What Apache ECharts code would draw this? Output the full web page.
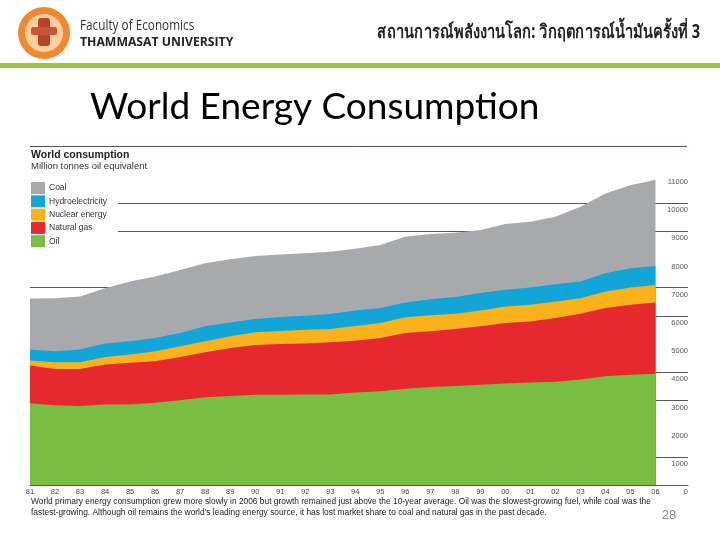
<!DOCTYPE html>
<html>
<head>
<meta charset="utf-8">
<script src="https://cdn.jsdelivr.net/npm/echarts@6/dist/echarts.min.js"></script>
<style>
html,body{margin:0;padding:0;background:#fff;}
#c{width:720px;height:540px;}
</style>
</head>
<body>
<div id="c"></div>
<script>
// ---- data (million tonnes oil equivalent) ----
var years = [1981,1982,1983,1984,1985,1986,1987,1988,1989,1990,1991,1992,1993,1994,1995,1996,1997,1998,1999,2000,2001,2002,2003,2004,2005,2006];
var oil     = [2900,2830,2800,2860,2860,2920,3010,3110,3160,3200,3200,3215,3215,3280,3330,3415,3475,3510,3560,3605,3640,3660,3745,3860,3910,3945];
var naturalGas = [1340,1290,1320,1415,1475,1470,1535,1600,1705,1770,1805,1805,1850,1840,1890,1980,1980,2025,2070,2145,2165,2265,2335,2420,2485,2535];
var nuclear = [175,240,240,270,295,355,375,390,410,450,460,490,470,520,530,555,565,545,565,585,590,590,550,585,615,620];
var hydro   = [390,385,445,475,470,475,475,530,495,470,495,495,530,550,530,530,575,590,615,590,615,610,590,650,680,675];
var coal    = [1815,1885,1885,1965,2120,2175,2235,2240,2240,2235,2215,2215,2215,2190,2235,2330,2310,2280,2235,2335,2330,2390,2650,2825,2945,3060];
var yTicks = ['0','1000','2000','3000','4000','5000','6000','7000','8000','9000','10000','11000'];
var legendNames = ['Coal','Hydroelectricity','Nuclear energy','Natural gas','Oil'];

var colors = {coal:'#a7a9ac', hydro:'#12a5d8', nuclear:'#f9b21b', gas:'#e6282f', oil:'#79be43'};

// stack bottom-up: oil, gas, nuclear, hydro, coal
var layers = [oil, naturalGas, nuclear, hydro, coal];
var layerNames = ['Oil','Natural gas','Nuclear energy','Hydroelectricity','Coal'];
var layerColors = [colors.oil, colors.gas, colors.nuclear, colors.hydro, colors.coal];
var cum = years.map(function(){ return 0; });
var tops = layers.map(function(arr){
  cum = cum.map(function(c,i){ return c + arr[i]; });
  return cum.slice();
});

function areaSeries(name, arr, color, z){
  return {name:name, type:'line', data:arr.map(function(v,i){ return [years[i], v]; }),
    symbol:'none', showSymbol:false, lineStyle:{width:0},
    areaStyle:{color:color, opacity:1, origin:'start'}, itemStyle:{color:color}, silent:true, z:z};
}
var series = [];
for (var k = layers.length-1; k >= 0; k--) {
  series.push(areaSeries(layerNames[k], tops[k], layerColors[k], 2 + (layers.length-1-k)));
}

var chart = echarts.init(document.getElementById('c'), null, {renderer:'canvas'});

var legendColors = [colors.coal, colors.hydro, colors.nuclear, colors.gas, colors.oil];
var legendGraphics = [{type:'rect', shape:{x:28,y:176,width:90,height:74}, style:{fill:'#fff'}, z:50}];
legendNames.forEach(function(n,i){
  var y = 182 + i*13.3;
  legendGraphics.push({type:'rect', shape:{x:31,y:y,width:14,height:12}, style:{fill:legendColors[i]}, z:60});
  legendGraphics.push({type:'text', x:49, y:y+6, style:{text:n, font:'8.5px "Liberation Sans"', fill:'#333', textVerticalAlign:'middle'}, z:60});
});

var option = {
  animation:false,
  backgroundColor:'#fff',
  grid:{left:30, right:32, top:175, bottom:55, containLabel:false},
  xAxis:{type:'value', min:1981, max:2007.3, interval:1,
    axisLine:{show:true, lineStyle:{color:'#555', width:1}},
    axisTick:{show:false}, splitLine:{show:false},
    axisLabel:{margin:3, fontSize:7.5, color:'#444', fontFamily:'Liberation Sans',
      formatter:function(v){ return (v<=2006 && v===Math.round(v)) ? String(v).slice(2) : ''; }}
  },
  yAxis:{type:'value', position:'right', min:0, max:11000, interval:1000,
    axisLine:{show:false}, axisTick:{show:false},
    splitLine:{show:true, lineStyle:{color:['#555','#555','rgba(0,0,0,0)'], width:1}},
    axisLabel:{inside:true, margin:0, fontSize:7.5, color:'#555', fontFamily:'Liberation Sans',
      verticalAlign:'top', padding:[3,0,0,0],
      formatter:function(v){ return yTicks[Math.round(v/1000)] || ''; }}
  },
  series: series,
  graphic:[
    // logo
    {type:'circle', shape:{cx:44, cy:33, r:26}, style:{fill:'#ef8a33'}, z:10},
    {type:'circle', shape:{cx:44, cy:33, r:19}, style:{fill:'#fbd0a0'}, z:11},
    {type:'rect', shape:{x:38, y:18, width:12, height:28, r:3}, style:{fill:'#b8432c'}, z:12},
    {type:'rect', shape:{x:31, y:27, width:26, height:8, r:2}, style:{fill:'#c9563a'}, z:12},
    {type:'text', x:80, y:26, scaleX:0.84, style:{text:'Faculty of Economics', font:'14px "Open Sans"', fill:'#333', textVerticalAlign:'middle'}, z:10},
    {type:'text', x:80, y:42, scaleX:0.94, style:{text:'THAMMASAT UNIVERSITY', font:'bold 13px "Open Sans"', fill:'#222', textVerticalAlign:'middle'}, z:10},
    {type:'text', x:700, y:33, scaleX:0.77, style:{text:'สถานการณ์พลังงานโลก: วิกฤตการณ์น้ำมันครั้งที่ 3', font:'bold 19px "Noto Sans", "DejaVu Sans", sans-serif', fill:'#222', textAlign:'right', textVerticalAlign:'middle'}, z:10},
    {type:'rect', shape:{x:0, y:63, width:720, height:5}, style:{fill:'#97c63d'}, z:10},
    // slide title
    {type:'text', x:90, y:107, style:{text:'World Energy Consumption', font:'37px Lato', fill:'#000', textVerticalAlign:'middle'}, z:10},
    // chart header
    {type:'line', shape:{x1:30, y1:146.5, x2:687, y2:146.5}, style:{stroke:'#5b4b5b', lineWidth:1}, z:10},
    {type:'text', x:31, y:155, style:{text:'World consumption', font:'bold 10.5px "Liberation Sans"', fill:'#222', textVerticalAlign:'middle'}, z:60},
    {type:'text', x:31, y:166, style:{text:'Million tonnes oil equivalent', font:'9.5px "Liberation Sans"', fill:'#333', textVerticalAlign:'middle'}, z:60},
    // caption
    {type:'text', x:31, y:502, style:{text:'World primary energy consumption grew more slowly in 2006 but growth remained just above the 10-year average. Oil was the slowest-growing fuel, while coal was the', font:'8.4px "Liberation Sans"', fill:'#222', textVerticalAlign:'middle'}, z:10},
    {type:'text', x:31, y:513, style:{text:'fastest-growing. Although oil remains the world\u2019s leading energy source, it has lost market share to coal and natural gas in the past decade.', font:'8.4px "Liberation Sans"', fill:'#222', textVerticalAlign:'middle'}, z:10},
    {type:'text', x:669, y:515, style:{text:'28', font:'13px "Liberation Sans"', fill:'#888', textAlign:'center', textVerticalAlign:'middle'}, z:10}
  ].concat(legendGraphics)
};
chart.setOption(option);
</script>
</body>
</html>
